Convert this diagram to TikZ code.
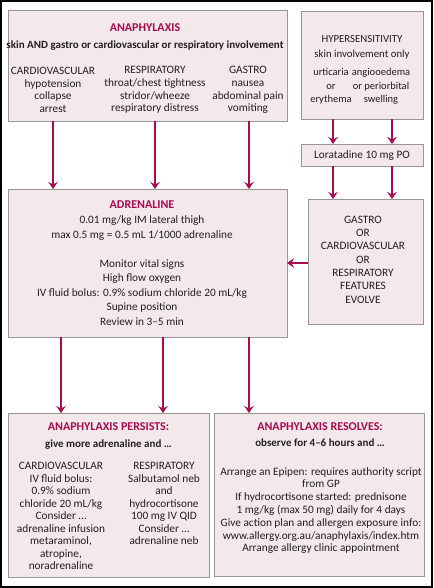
\documentclass[tikz,border=0pt]{standalone}
\usepackage{fontspec}
\setmainfont{Carlito}
\usetikzlibrary{arrows.meta}
\definecolor{crim}{RGB}{170,10,80}
\definecolor{boxfill}{RGB}{243,232,234}
\definecolor{boxline}{RGB}{150,150,150}
\definecolor{ink}{RGB}{35,31,32}
\newcommand{\ttl}[1]{{\fontsize{12}{16}\selectfont\bfseries\textcolor{crim}{#1}}}
\begin{document}
\begin{tikzpicture}[x=1pt,y=-1pt,
  box/.style={draw=boxline, fill=boxfill, line width=0.8pt, inner sep=0pt, outer sep=0pt},
  txt/.style={align=center, inner sep=0pt, text=ink, font=\fontsize{11.3}{14}\selectfont},
  tight/.style={align=center, inner sep=0pt, text=ink, font=\fontsize{11.3}{12.5}\selectfont},
  head/.style={align=center, inner sep=0pt, text=ink, font=\fontsize{11}{16.5}\selectfont\bfseries},
  arr/.style={draw=crim, line width=2pt, -{Stealth[length=7pt,width=9.5pt,inset=2.5pt]}}
]
\useasboundingbox (0,0) rectangle (433,588);
\draw[line width=2pt] (1,1) rectangle (432,587);

% boxes
\node[box, minimum width=279pt, minimum height=111pt] (ana) at (147.5,65.5) {};
\node[box, minimum width=122pt, minimum height=108pt] (hyp) at (362,65) {};
\node[box, minimum width=122pt, minimum height=22pt] (lor) at (362,155) {};
\node[box, minimum width=115pt, minimum height=125pt] (gas) at (365.5,261.5) {};
\node[box, minimum width=279pt, minimum height=148pt] (adr) at (147.5,263) {};
\node[box, minimum width=201pt, minimum height=164pt] (per) at (108.5,495) {};
\node[box, minimum width=210pt, minimum height=163pt] (res) at (319,494.5) {};

% anaphylaxis texts
\node[head] (anat) at (145,37) {\ttl{ANAPHYLAXIS}\\ skin AND gastro or cardiovascular or respiratory involvement};
\node[txt, font=\fontsize{11.3}{12.7}\selectfont] (anac1) at (53,90) {CARDIOVASCULAR\\ hypotension\\ collapse\\ arrest};
\node[txt, font=\fontsize{11.3}{12.7}\selectfont] (anac2) at (155,90) {RESPIRATORY\\ throat/chest tightness\\ stridor/wheeze\\ respiratory distress};
\node[txt, font=\fontsize{11.3}{12.7}\selectfont] (anac3) at (248,90) {GASTRO\\ nausea\\ abdominal pain\\ vomiting};

% hypersensitivity texts
\node[txt, font=\fontsize{10.8}{15}\selectfont] (hypt) at (362,47.5) {HYPERSENSITIVITY\\ skin involvement only};
\node[tight, font=\fontsize{10.5}{13.5}\selectfont] (hypc1) at (331,86.5) {urticaria\\ or\\ erythema};
\node[tight, font=\fontsize{10.5}{13.5}\selectfont] (hypc2) at (381,86.5) {angiooedema\\ or periorbital\\ swelling};

\node[txt] (lort) at (362,155.5) {Loratadine 10 mg PO};

\node[txt, font=\fontsize{11.3}{13.3}\selectfont] (gast) at (363,259.5) {GASTRO\\ OR\\ CARDIOVASCULAR\\ OR\\ RESPIRATORY\\ FEATURES\\ EVOLVE};

% adrenaline texts
\node[txt, font=\fontsize{11.3}{14.5}\selectfont] (adrt) at (142,263) {\ttl{ADRENALINE}\\[0.5pt]
0.01 mg/kg IM lateral thigh\\ max 0.5 mg = 0.5 mL 1/1000 adrenaline\\[14.5pt]
Monitor vital signs\\ High flow oxygen\\ IV fluid bolus: 0.9\% sodium chloride 20 mL/kg\\ Supine position\\ Review in 3--5 min};

% persists texts
\node[head] (pert) at (108.5,436) {\ttl{ANAPHYLAXIS PERSISTS:}\\ give more adrenaline and \dots};
\node[tight, anchor=north] (perc1) at (61,462) {CARDIOVASCULAR\\ IV fluid bolus:\\ 0.9\% sodium\\ chloride 20 mL/kg\\ Consider \dots\\ adrenaline infusion\\ metaraminol,\\ atropine,\\ noradrenaline};
\node[tight, anchor=north] (perc2) at (164,462) {RESPIRATORY\\ Salbutamol neb\\ and\\ hydrocortisone\\ 100 mg IV QID\\ Consider \dots\\ adrenaline neb};

% resolves texts
\node[head] (rest) at (320,434.5) {\ttl{ANAPHYLAXIS RESOLVES:}\\ observe for 4--6 hours and \dots};
\node[txt, font=\fontsize{11.3}{12.8}\selectfont] (resb) at (321,510.5) {Arrange an Epipen: requires authority script\\ from GP\\ If hydrocortisone started: prednisone\\ 1 mg/kg (max 50 mg) daily for 4 days\\ Give action plan and allergen exposure info:\\ www.allergy.org.au/anaphylaxis/index.htm\\ Arrange allergy clinic appointment};

% arrows
\draw[arr] (ana.south -| 53,0) -- (adr.north -| 53,0);
\draw[arr] (ana.south -| 155,0) -- (adr.north -| 155,0);
\draw[arr] (ana.south -| 249,0) -- (adr.north -| 249,0);
\draw[arr] (hyp.south -| 333,0) -- (lor.north -| 333,0);
\draw[arr] (hyp.south -| 392,0) -- (lor.north -| 392,0);
\draw[arr] (lor.south -| 333,0) -- (gas.north -| 333,0);
\draw[arr] (lor.south -| 392,0) -- (gas.north -| 392,0);
\draw[arr] (gas.west |- 0,263) -- (adr.east |- 0,263);
\draw[arr] (adr.south -| 61,0) -- (per.north -| 61,0);
\draw[arr] (adr.south -| 163,0) -- (per.north -| 163,0);
\draw[arr] (adr.south -| 249,0) -- (res.north -| 249,0);
\end{tikzpicture}
\end{document}
